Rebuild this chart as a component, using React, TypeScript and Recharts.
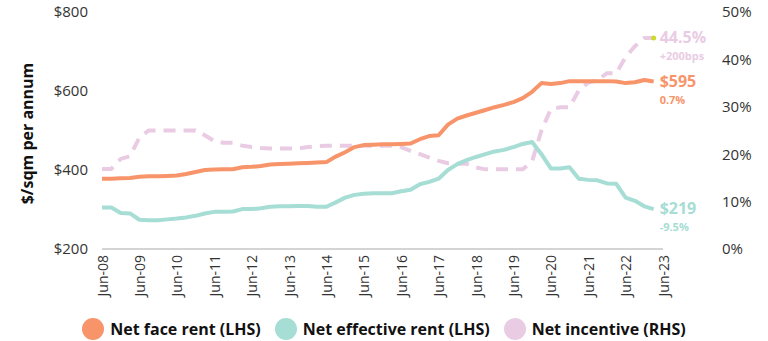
import React from 'react';
import { LineChart, Line, XAxis, YAxis, Legend } from 'recharts';

// Quarter index 0 = Jun-08 ... 59 = Mar-23
const tickLabels = ['Jun-08','Jun-09','Jun-10','Jun-11','Jun-12','Jun-13','Jun-14','Jun-15','Jun-16','Jun-17','Jun-18','Jun-19','Jun-20','Jun-21','Jun-22','Jun-23'];

const netFaceRent = [
  378, 378, 379, 380, 383, 384, 384, 385, 386, 390,
  395, 400, 401, 402, 402, 407, 408, 410, 414, 415,
  416, 417, 418, 419, 420, 434, 445, 458, 463, 464,
  465, 465, 466, 467, 478, 486, 488, 515, 530, 538,
  545, 552, 559, 565, 572, 582, 598, 620, 618, 620,
  625, 625, 625, 625, 625, 624, 620, 622, 628, 624,
];

const netEffectiveRent = [
  305, 305, 291, 290, 274, 273, 273, 275, 277, 280,
  284, 290, 294, 294, 295, 301, 301, 303, 307, 308,
  308, 309, 309, 307, 307, 318, 330, 337, 340, 341,
  341, 341, 346, 350, 364, 370, 378, 400, 415, 425,
  433, 440, 447, 451, 458, 466, 471, 440, 404, 404,
  407, 378, 375, 374, 366, 365, 330, 322, 308, 301,
];

const netIncentive = [
  16.9, 16.9, 19.0, 19.6, 23.5, 25.0, 25.0, 25.0, 25.0, 25.0,
  25.0, 24.0, 22.8, 22.4, 22.4, 21.8, 21.5, 21.3, 21.2, 21.2,
  21.2, 21.2, 21.5, 21.7, 21.8, 21.8, 21.8, 21.8, 21.8, 21.8,
  21.8, 21.8, 21.5, 20.7, 20.0, 19.3, 18.6, 18.1, 18.0, 18.0,
  17.2, 16.8, 16.8, 16.8, 16.8, 16.8, 18.5, 25.0, 29.5, 29.9,
  29.9, 33.5, 35.1, 35.6, 37.1, 37.1, 40.5, 42.8, 44.5, 44.5,
];

const endLabels = {
  face: { main: '$595', sub: '0.7%' },
  effective: { main: '$219', sub: '-9.5%' },
  incentive: { main: '44.5%', sub: '+200bps' },
};

const leftTicks = [200, 400, 600, 800];
const rightTicks = [0, 10, 20, 30, 40, 50];
const seriesNames = ['Net face rent (LHS)', 'Net effective rent (LHS)', 'Net incentive (RHS)'];

const COLORS = { face: '#F7946A', effective: '#A6DDD4', incentive: '#E9CCE4', dot: '#CBD92E' };
const FONT = "'Open Sans', 'Noto Sans', sans-serif";

const data = netFaceRent.map((v, i) => ({
  q: i,
  face: v,
  effective: netEffectiveRent[i],
  incentive: netIncentive[i],
}));
const last = data.length - 1;
const xTicks = tickLabels.map((_, i) => i * 4);

const XTick = (props: any) => {
  const { x, y, payload } = props;
  return (
    <text
      x={x}
      y={y}
      transform={`rotate(-90, ${x}, ${y})`}
      textAnchor="end"
      dominantBaseline="central"
      fontSize={14}
      fontFamily={FONT}
      fill="#333"
    >
      {tickLabels[payload.value / 4]}
    </text>
  );
};

const makeEndLabel = (color: string, main: string, sub: string) => (props: any) => {
  const { x, y, index } = props;
  if (index !== last) return null;
  return (
    <g>
      <text x={x + 6} y={y + 5} fill={color} fontSize={16} fontWeight={700} fontFamily={FONT}>{main}</text>
      <text x={x + 6} y={y + 22} fill={color} fontSize={11} fontWeight={700} fontFamily={FONT}>{sub}</text>
    </g>
  );
};

const IncentiveDot = (props: any) => {
  const { cx, cy, index } = props;
  if (index !== last) return <g key={`d${index}`} />;
  return <circle key={`d${index}`} cx={cx} cy={cy} r={2.5} fill={COLORS.dot} />;
};

const AxisTitle = (props: any) => {
  const vb = props.viewBox || { x: 0, y: 12, width: 102, height: 237 };
  const cx = vb.x + 27;
  const cy = vb.y + vb.height / 2 + 3;
  return (
    <text
      x={cx}
      y={cy}
      transform={`rotate(-90, ${cx}, ${cy})`}
      textAnchor="middle"
      dominantBaseline="central"
      fontSize={16}
      fontWeight={700}
      fontFamily={FONT}
      fill="#111"
    >
      $/sqm per annum
    </text>
  );
};

const legendColors = [COLORS.face, COLORS.effective, COLORS.incentive];

const LegendContent = () => (
  <div style={{ display: 'flex', justifyContent: 'center', alignItems: 'center', height: 24, fontFamily: FONT }}>
    {seriesNames.map((name, i) => (
      <div key={name} style={{ display: 'flex', alignItems: 'center', marginRight: i < 2 ? 14 : 0 }}>
        <span style={{ width: 22, height: 22, borderRadius: '50%', background: legendColors[i], display: 'inline-block' }} />
        <span style={{ marginLeft: 6, fontSize: 16, fontWeight: 700, color: '#111', whiteSpace: 'nowrap' }}>{name}</span>
      </div>
    ))}
  </div>
);

export default function App() {
  return (
    <div style={{ position: 'absolute', left: 0, top: 0, width: 768, height: 341, background: '#fff' }}>
      <LineChart width={768} height={341} data={data} margin={{ top: 12, right: 0, bottom: 0, left: 0 }}>
        <XAxis
          dataKey="q"
          type="number"
          domain={[0, 60]}
          ticks={xTicks}
          interval={0}
          tick={<XTick />}
          tickLine={false}
          tickSize={0}
          tickMargin={6}
          axisLine={{ stroke: '#c6c6c6', strokeWidth: 1.5 }}
          height={68}
        />
        <YAxis
          yAxisId="left"
          domain={[200, 800]}
          ticks={leftTicks}
          tickFormatter={(v: number) => `$${v}`}
          axisLine={false}
          tickLine={false}
          tickSize={0}
          tickMargin={14}
          width={102}
          tick={{ fontSize: 15, fill: '#333', fontFamily: FONT }}
          label={<AxisTitle />}
        />
        <YAxis
          yAxisId="right"
          orientation="right"
          domain={[0, 50]}
          ticks={rightTicks}
          tickFormatter={(v: number) => `${v}%`}
          axisLine={false}
          tickLine={false}
          tickSize={0}
          tickMargin={59}
          width={105}
          tick={{ fontSize: 15, fill: '#333', fontFamily: FONT, textAnchor: 'start' }}
        />
        <Legend verticalAlign="bottom" content={<LegendContent />} />
        <Line
          yAxisId="right"
          type="linear"
          dataKey="incentive"
          stroke={COLORS.incentive}
          strokeWidth={4}
          strokeDasharray="12 8"
          dot={<IncentiveDot />}
          activeDot={false}
          isAnimationActive={false}
          label={makeEndLabel(COLORS.incentive, endLabels.incentive.main, endLabels.incentive.sub)}
        />
        <Line
          yAxisId="left"
          type="linear"
          dataKey="effective"
          stroke={COLORS.effective}
          strokeWidth={4}
          strokeLinejoin="round"
          dot={false}
          activeDot={false}
          isAnimationActive={false}
          label={makeEndLabel(COLORS.effective, endLabels.effective.main, endLabels.effective.sub)}
        />
        <Line
          yAxisId="left"
          type="linear"
          dataKey="face"
          stroke={COLORS.face}
          strokeWidth={4}
          strokeLinejoin="round"
          dot={false}
          activeDot={false}
          isAnimationActive={false}
          label={makeEndLabel(COLORS.face, endLabels.face.main, endLabels.face.sub)}
        />
      </LineChart>
    </div>
  );
}
